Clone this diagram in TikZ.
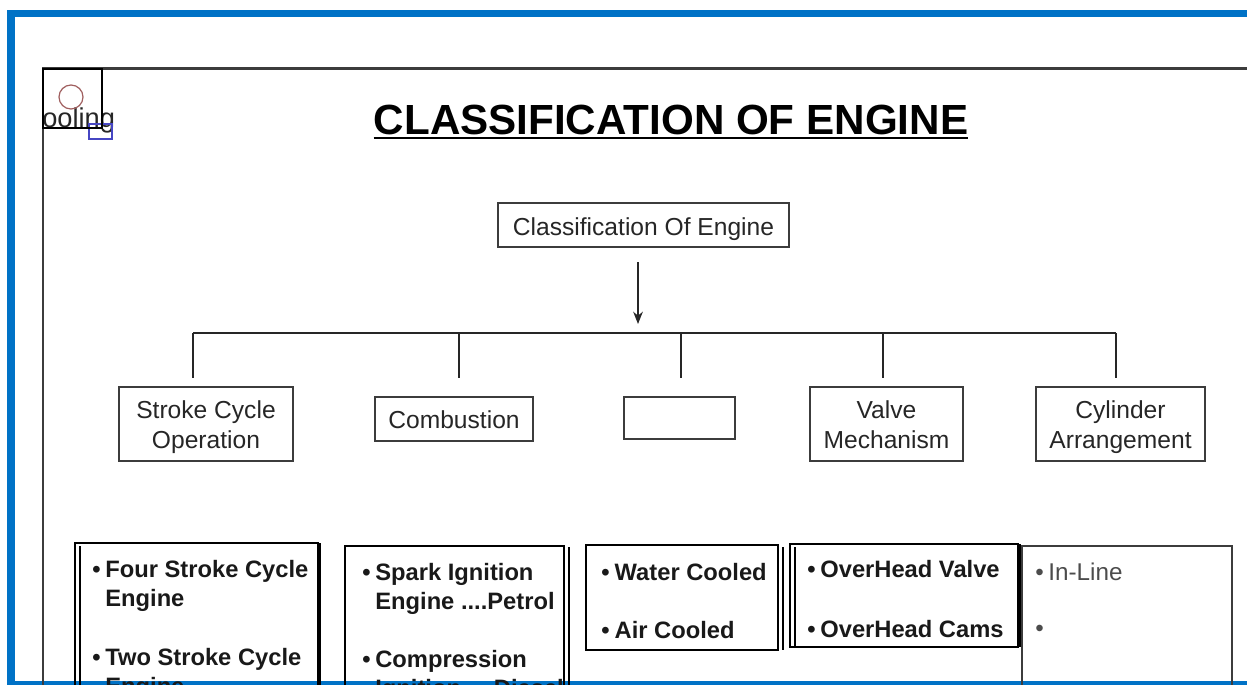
\documentclass[tikz,border=0pt]{standalone}
\usepackage{fontspec}
\setmainfont{Liberation Sans}
\usetikzlibrary{calc, positioning}
\usetikzlibrary{arrows.meta}

\definecolor{frameblue}{RGB}{0,114,198}
\definecolor{pagegray}{RGB}{60,60,60}
\definecolor{ringred}{RGB}{160,95,95}
\definecolor{tagblue}{RGB}{70,70,195}
\newcommand{\blt}[1][7.4pt]{\makebox[#1][l]{\textbullet}}

\begin{document}
\begin{tikzpicture}[x=0.02cm, y=-0.02cm,
  catbox/.style={draw=pagegray, line width=1pt, align=center, inner sep=0pt,
    text=black!85, font=\fontsize{14}{17}\selectfont, text depth=1pt},
  wire/.style={draw=black!85, line width=0.8pt},
  listframe/.style={draw=black, line width=1.1pt},
  listtext/.style={anchor=base west, inner sep=0pt, text=black!90,
    font=\bfseries\fontsize{13.5}{16}\selectfont},
  plaintext/.style={anchor=base west, inner sep=0pt, text=black!70,
    font=\fontsize{13.8}{16}\selectfont}]
\useasboundingbox (0,0) rectangle (1247,684);
\clip (0,0) rectangle (1247,684);

\draw[frameblue, line width=4pt] (11,13.5) rectangle (1300,684.5);
\draw[pagegray, line width=1.5pt] (43,68.5) rectangle (1300,800);

\node[anchor=base west, inner sep=0pt, text=black!85, font=\fontsize{15.5}{18}\selectfont] (tag) at (42,127) {ooling};
\draw[ringred, line width=0.7pt] (71,97) circle (12);
\draw[tagblue, line width=0.8pt] (89,124) rectangle (112,139);
\draw[black, line width=1.6pt] (43,69) rectangle (102,128);

\node[anchor=base, inner sep=0pt, font=\bfseries\fontsize{24}{28}\selectfont] (title) at (671,134) {CLASSIFICATION OF ENGINE};
\draw[line width=1.4pt] ($(title.base west)+(0,4)$) -- ($(title.base east)+(0,4)$);

\node[catbox, minimum width=291*0.02cm, minimum height=44*0.02cm] (top) at (643.5,225) {\raisebox{-3pt}{Classification Of Engine}};

\node[catbox, minimum width=174*0.02cm, minimum height=74*0.02cm] (stroke) at (206,424) {\raisebox{-2pt}{Stroke Cycle}\\\raisebox{-2pt}{Operation}};
\node[catbox, minimum width=158*0.02cm, minimum height=44*0.02cm] (comb) at (454,419) {\raisebox{-2pt}{Combustion}};
\node[catbox, minimum width=111*0.02cm, minimum height=42*0.02cm] (blank) at (679.5,418) {};
\node[catbox, minimum width=153*0.02cm, minimum height=74*0.02cm] (valve) at (886.5,424) {\raisebox{-2pt}{Valve}\\\raisebox{-2pt}{Mechanism}};
\node[catbox, minimum width=169*0.02cm, minimum height=74*0.02cm] (cyl) at (1120.5,424) {\raisebox{-2pt}{Cylinder}\\\raisebox{-2pt}{Arrangement}};

\coordinate (arrS) at (638,262);
\coordinate (arrE) at (638,324);
\draw[wire, -{Stealth[length=7pt, width=5.5pt]}] (arrS) -- (arrE);

\coordinate (busL) at (193,333);
\coordinate (busR) at (1116,333);
\draw[wire] (busL) -- (busR);
\foreach \n/\x in {stroke/193, comb/459, blank/681, valve/883, cyl/1116} {
  \coordinate (\n top) at (\x,333);
  \coordinate (\n end) at (\x,378);
  \draw[wire] (\n top) -- (\n end);
}

\draw[listframe] (75,543) rectangle (318,720);
\draw[line width=0.6pt] (80,546) -- (80,720);
\draw[line width=1.2pt] (319.5,543) -- (319.5,720);

\draw[listframe] (345,546) rectangle (564,720);
\draw[line width=0.7pt] (569,547) -- (569,720);

\draw[listframe] (586,545) rectangle (778,650);
\draw[line width=0.7pt] (783,547) -- (783,650);

\draw[listframe] (790,544) rectangle (1018,647);
\draw[line width=0.6pt] (795,547) -- (795,647);
\draw[line width=1.6pt] (1020,544) -- (1020,647);

\draw[pagegray, line width=0.9pt] (1022,546) rectangle (1232,720);

\node[listtext] (four) at (92,577) {\blt Four Stroke Cycle};
\node[listtext] (fourb) at (105,606) {Engine};
\node[listtext] (two) at (92,665) {\blt Two Stroke Cycle};
\node[listtext] (twob) at (105,694) {Engine};

\node[listtext] (spark) at (362,580) {\blt Spark Ignition};
\node[listtext] (sparkb) at (375,609) {Engine ....Petrol};
\node[listtext] (comp) at (362,667) {\blt Compression};
\node[listtext] (compb) at (375,696) {Ignition ....Diesel};

\node[listtext] (water) at (601,580) {\blt[7.6pt]Water Cooled};
\node[listtext] (air) at (601,638) {\blt[7.6pt]Air Cooled};

\node[listtext] (ohv) at (807,577) {\blt OverHead Valve};
\node[listtext] (ohc) at (807,637) {\blt OverHead Cams};

\node[plaintext] (inline) at (1035,580) {\blt In-Line};
\node[plaintext] (second) at (1035,636) {\textbullet};
\end{tikzpicture}
\end{document}
